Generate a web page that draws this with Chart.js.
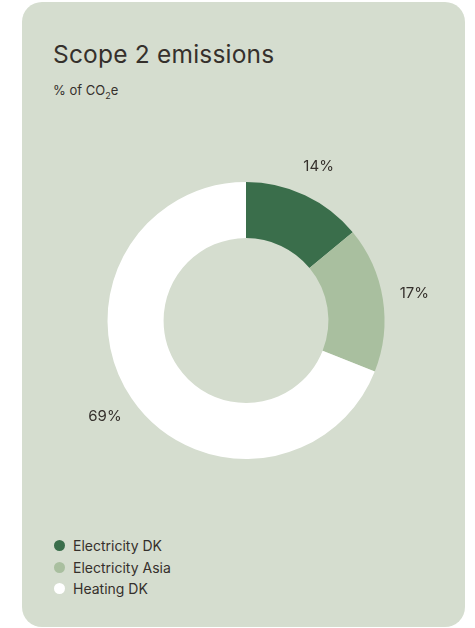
<!DOCTYPE html>
<html lang="en">

<head>
    <meta charset="UTF-8">
    <meta name="viewport" content="width=device-width, initial-scale=1.0">
    <title>Scope 2 emissions</title>
    <script src="https://cdn.jsdelivr.net/npm/chart.js"></script>
    <style>
        html, body { margin: 0; padding: 0; background: #fff; }
        body { width: 475px; height: 628px; position: relative; overflow: hidden; font-family: Inter, "Noto Sans", sans-serif; color: #35302c; }
        .card { position: absolute; left: 22px; top: 2px; width: 443px; height: 625px; background: #d5ddcf; border-radius: 20px; }
        .title { position: absolute; left: 31px; top: 37px; font-size: 24.5px; margin: 0; font-weight: 400; letter-spacing: 0.2px; }
        .subtitle { position: absolute; left: 31px; top: 80px; font-size: 13px; margin: 0; }
        .chart-box { position: absolute; left: 0; top: 118px; width: 443px; height: 400px; }
        .legend { position: absolute; left: 31px; top: 533px; list-style: none; margin: 0; padding: 0; font-size: 14px; }
        .legend li { height: 21.5px; line-height: 21.5px; display: flex; align-items: center; }
        .legend span.dot { width: 11px; height: 11px; border-radius: 50%; display: inline-block; margin-left: 1px; margin-right: 8px; }
    </style>
</head>

<body>
    <div class="card">
        <p class="title">Scope 2 emissions</p>
        <p class="subtitle">% of CO<sub style="font-size:9px">2</sub>e</p>
        <div class="chart-box">
            <canvas id="scope2Chart" width="443" height="400"></canvas>
        </div>
        <ul class="legend" id="legend"></ul>
    </div>

    <script>
        const categories = ['Electricity DK', 'Electricity Asia', 'Heating DK'];
        const shares = [14, 17, 69];
        const colors = ['#3a6e4b', '#a9bf9f', '#ffffff'];

        // percent labels outside each slice
        const outsideLabels = {
            id: 'outsideLabels',
            afterDatasetsDraw(chart) {
                const ctx = chart.ctx;
                const meta = chart.getDatasetMeta(0);
                ctx.save();
                ctx.font = '15px Inter, "Noto Sans", sans-serif';
                ctx.fillStyle = '#35302c';
                ctx.textAlign = 'center';
                ctx.textBaseline = 'middle';
                meta.data.forEach((arc, i) => {
                    const mid = (arc.startAngle + arc.endAngle) / 2;
                    const r = arc.outerRadius + 32;
                    ctx.fillText(shares[i] + '%', arc.x + Math.cos(mid) * r, arc.y + Math.sin(mid) * r);
                });
                ctx.restore();
            }
        };

        const ctx = document.getElementById('scope2Chart').getContext('2d');
        new Chart(ctx, {
            type: 'doughnut',
            data: {
                labels: categories,
                datasets: [{
                    data: shares,
                    backgroundColor: colors,
                    borderWidth: 0
                }]
            },
            options: {
                responsive: false,
                maintainAspectRatio: false,
                animation: false,
                cutout: '59.5%',
                layout: { padding: { top: 62, bottom: 61, left: 5, right: 0 } },
                plugins: {
                    legend: { display: false },
                    tooltip: { enabled: false }
                }
            },
            plugins: [outsideLabels]
        });

        const legend = document.getElementById('legend');
        categories.forEach((name, i) => {
            const li = document.createElement('li');
            li.innerHTML = '<span class="dot" style="background:' + colors[i] + '"></span>' + name;
            legend.appendChild(li);
        });
    </script>
</body>

</html>
